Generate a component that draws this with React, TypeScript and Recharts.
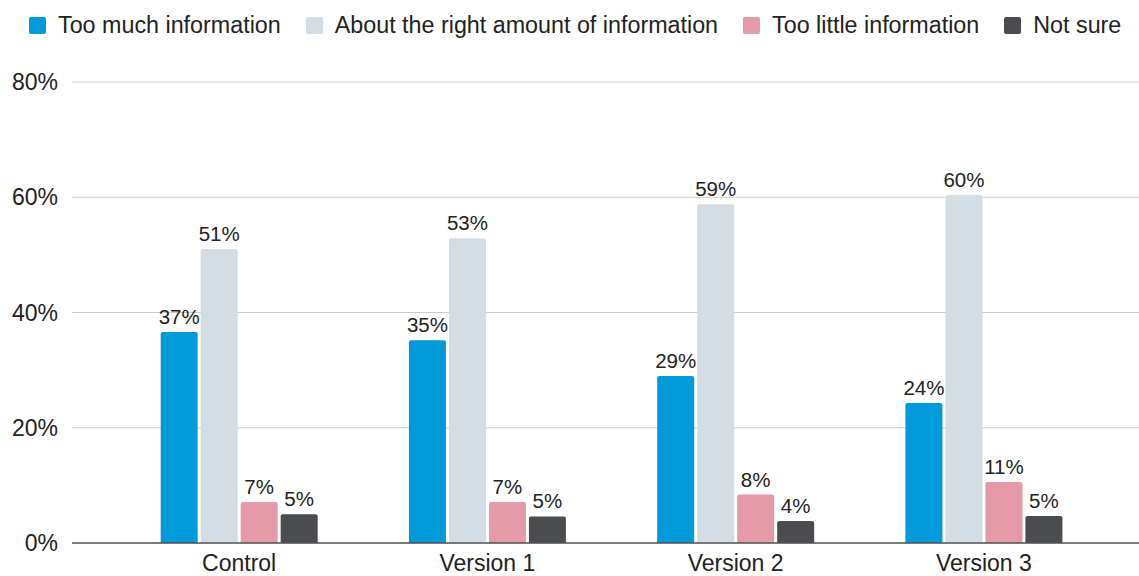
import React from 'react';
import { Bar, BarChart, XAxis, YAxis, CartesianGrid, Legend, LabelList } from 'recharts';

const categories = ['Control', 'Version 1', 'Version 2', 'Version 3'];
const tooMuch = [36.6, 35.2, 29.0, 24.3];
const aboutRight = [51.0, 52.9, 58.8, 60.4];
const tooLittle = [7.1, 7.1, 8.4, 10.6];
const notSure = [5.0, 4.6, 3.8, 4.7];
const yTicks = [0, 20, 40, 60, 80];

const series = [
  { key: 'tooMuch', name: 'Too much information', color: '#0099da' },
  { key: 'aboutRight', name: 'About the right amount of information', color: '#d5dde4' },
  { key: 'tooLittle', name: 'Too little information', color: '#e49aa9' },
  { key: 'notSure', name: 'Not sure', color: '#4b4c50' },
];

const data = categories.map((name, i) => ({
  name,
  tooMuch: tooMuch[i],
  aboutRight: aboutRight[i],
  tooLittle: tooLittle[i],
  notSure: notSure[i],
}));

const FONT = '"Liberation Sans", Arial, Helvetica, sans-serif';

const LegendContent = () => (
  <div
    style={{
      display: 'flex',
      alignItems: 'center',
      paddingLeft: 29,
      fontFamily: FONT,
      fontSize: 23.3,
      color: '#222',
      whiteSpace: 'nowrap',
      width: 1139,
      boxSizing: 'border-box',
    }}
  >
    {series.map((s) => (
      <div key={s.key} style={{ display: 'flex', alignItems: 'center', marginRight: 25, flexShrink: 0 }}>
        <span style={{ width: 17, height: 17, background: s.color, borderRadius: 2, marginRight: 12, display: 'inline-block', flexShrink: 0 }} />
        <span>{s.name}</span>
      </div>
    ))}
  </div>
);

export default function App() {
  return (
    <div style={{ position: 'absolute', left: 0, top: 0, width: 1139, height: 576, background: '#fff' }}>
      <BarChart
        width={1139}
        height={576}
        data={data}
        margin={{ top: 32, right: 0, bottom: 0, left: 0 }}
        barCategoryGap="18.4%"
        barGap={3}
      >
        <CartesianGrid vertical={false} stroke="#cccccc" />
        <XAxis
          dataKey="name"
          height={33}
          padding={{ left: 43, right: 31 }}
          tickLine={false}
          tickSize={0}
          tickMargin={12}
          axisLine={{ stroke: '#555', strokeWidth: 1.5 }}
          tick={{ fill: '#222', fontSize: 23, fontFamily: FONT }}
        />
        <YAxis
          width={72}
          domain={[0, 80]}
          ticks={yTicks}
          tickFormatter={(v) => `${v}%`}
          axisLine={false}
          tickLine={false}
          tickSize={0}
          tickMargin={14}
          tick={{ fill: '#222', fontSize: 23, fontFamily: FONT }}
        />
        <Legend
          verticalAlign="top"
          align="left"
          height={50}
          wrapperStyle={{ top: 12, left: 0, width: 1139 }}
          content={<LegendContent />}
        />
        {series.map((s) => (
          <Bar key={s.key} dataKey={s.key} name={s.name} fill={s.color} radius={[2, 2, 0, 0]} isAnimationActive={false}>
            <LabelList
              dataKey={s.key}
              position="top"
              offset={8}
              formatter={(v: number) => `${Math.round(v)}%`}
              style={{ fill: '#222', fontSize: 20.5, fontFamily: FONT }}
            />
          </Bar>
        ))}
      </BarChart>
    </div>
  );
}
